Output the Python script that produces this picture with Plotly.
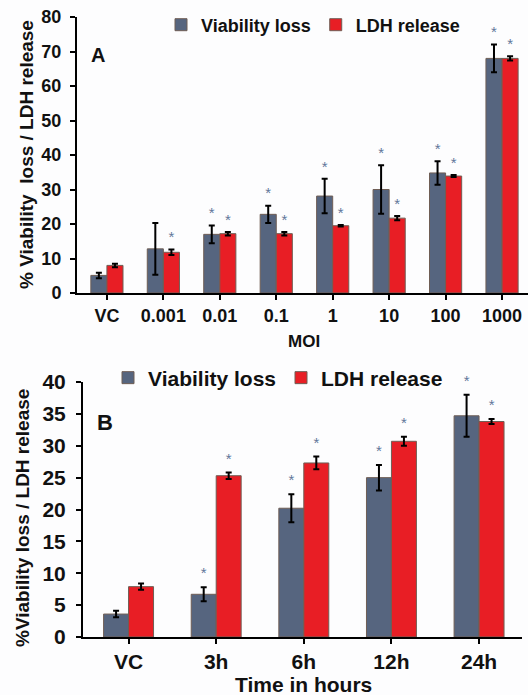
import plotly.graph_objects as go
import numpy as np

# ---------- Data ----------
moi_labels = ["VC", "0.001", "0.01", "0.1", "1", "10", "100", "1000"]
a_viability = [5.1, 12.8, 17.0, 22.8, 28.1, 30.0, 34.8, 68.0]
a_viability_err = [0.8, 7.5, 2.6, 2.5, 5.0, 7.0, 3.4, 4.0]
a_ldh = [8.0, 11.8, 17.2, 17.2, 19.5, 21.7, 33.9, 68.0]
a_ldh_err = [0.5, 0.8, 0.5, 0.5, 0.2, 0.6, 0.3, 0.6]
a_viability_sig = [False, False, True, True, True, True, True, True]
a_ldh_sig = [False, True, True, True, True, True, True, True]

time_labels = ["VC", "3h", "6h", "12h", "24h"]
b_viability = [3.6, 6.7, 20.2, 25.0, 34.7]
b_viability_err = [0.5, 1.1, 2.2, 2.0, 3.3]
b_ldh = [7.9, 25.3, 27.3, 30.7, 33.8]
b_ldh_err = [0.5, 0.5, 1.0, 0.7, 0.4]
b_viability_sig = [False, True, True, True, True]
b_ldh_sig = [False, True, True, True, True]

series_names = ["Viability loss", "LDH release"]

# ---------- Style ----------
GRAY = "#56657F"
RED = "#E81E25"
OUTLINE = "#6F5E55"
STAR = "#62779A"
FONT = "Liberation Sans, Arial, sans-serif"
W = 0.285
FW, FH = 528, 695

fig = go.Figure()


def add_panel(labels, v, ve, l, le, vs, ls, xa, ya, legend, star_off):
    pos = np.arange(len(labels))
    for vals, errs, sig, col, name, sign in [
        (v, ve, vs, GRAY, series_names[0], -1),
        (l, le, ls, RED, series_names[1], 1),
    ]:
        x = pos + sign * W / 2
        fig.add_trace(go.Bar(
            x=x, y=vals, width=W, name=name, legend=legend, showlegend=True,
            marker=dict(color=col, line=dict(color=OUTLINE, width=1)),
            error_y=dict(type="data", array=errs, visible=True,
                         color="black", thickness=2, width=3),
            xaxis=xa, yaxis=ya,
        ))
        sx = [xx for xx, s in zip(x, sig) if s]
        sy = [val + e + star_off for val, e, s in zip(vals, errs, sig) if s]
        fig.add_trace(go.Scatter(
            x=sx, y=sy, mode="text", text=["*"] * len(sx),
            textfont=dict(size=15, color=STAR, family=FONT),
            showlegend=False, hoverinfo="skip", xaxis=xa, yaxis=ya,
            cliponaxis=False,
        ))


add_panel(moi_labels, a_viability, a_viability_err, a_ldh, a_ldh_err,
          a_viability_sig, a_ldh_sig, "x", "y", "legend", 3.2)
add_panel(time_labels, b_viability, b_viability_err, b_ldh, b_ldh_err,
          b_viability_sig, b_ldh_sig, "x2", "y2", "legend2", 2.0)

axis_common = dict(showline=True, linecolor="black", linewidth=2,
                   ticks="outside", ticklen=5, tickwidth=2, tickcolor="black",
                   showgrid=False, zeroline=False, automargin=False)


def bold(size):
    return dict(size=size, family=FONT, weight="bold", color="#111111")


def ann(text, px, py, size, angle=0):
    return dict(text=text, x=px / FW, y=1 - py / FH, xref="paper", yref="paper",
                xanchor="center", yanchor="middle", textangle=angle,
                showarrow=False, font=bold(size))


fig.update_layout(
    width=FW, height=FH,
    margin=dict(l=0, r=0, t=0, b=0, autoexpand=False),
    paper_bgcolor="#FDFDFE", plot_bgcolor="#FDFDFE",
    font=dict(family=FONT, color="#111111"),
    barmode="overlay",
    xaxis=dict(domain=[77 / FW, 1.0], range=[-0.53, 7.46],
               tickvals=list(range(len(moi_labels))), ticktext=moi_labels,
               tickfont=bold(18), anchor="y", ticklabelstandoff=0, **axis_common),
    yaxis=dict(domain=[1 - 293 / FH, 1 - 17 / FH], range=[0, 80],
               dtick=10, tickfont=bold(18), anchor="x",
               ticklabelstandoff=5, **axis_common),
    xaxis2=dict(domain=[83 / FW, 522 / FW], range=[-0.52, 4.49],
                tickvals=list(range(len(time_labels))), ticktext=time_labels,
                tickfont=bold(21), anchor="y2", ticklabelstandoff=0, **axis_common),
    yaxis2=dict(domain=[1 - 637 / FH, 1 - 382 / FH], range=[0, 40],
                dtick=5, tickfont=bold(21), anchor="x2",
                ticklabelstandoff=6, **axis_common),
    legend=dict(orientation="h", x=161 / FW, y=1 - 25 / FH, xanchor="left",
                yanchor="middle", font=bold(18),
                bgcolor="rgba(0,0,0,0)", itemwidth=30),
    legend2=dict(orientation="h", x=108 / FW, y=1 - 378 / FH, xanchor="left",
                 yanchor="middle", font=bold(21),
                 bgcolor="rgba(0,0,0,0)", itemwidth=30),
    annotations=[
        ann("A", 98, 55, 20),
        ann("B", 105, 423, 22),
        ann("% Viability  loss / LDH release", 27, 155, 19, -90),
        ann("%Viability loss / LDH release", 22, 518, 19, -90),
        ann("MOI", 304, 341, 17),
        ann("Time in hours", 303, 684, 21),
    ],
)

fig.write_html("out.html", config={"displayModeBar": False},
               post_script="document.body.style.margin='0';")
